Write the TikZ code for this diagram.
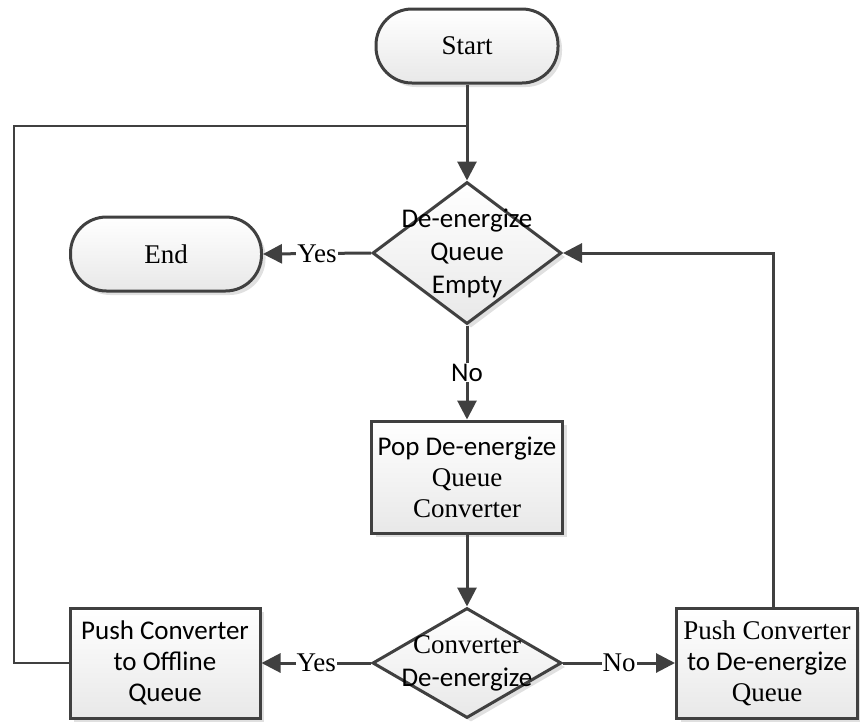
\documentclass[tikz,border=0pt]{standalone}
\usepackage{fontspec}
\setmainfont{Liberation Serif}
\newfontfamily\calf{Carlito}
\usetikzlibrary{arrows.meta,shapes.geometric,shadows}
\definecolor{ink}{HTML}{404040}
\tikzset{
  flowline/.style={draw=ink, line width=3pt},
  flowarrow/.style={flowline, -{Triangle[length=19pt,width=19pt]}},
  returnline/.style={draw=ink, line width=2.2pt},
  shaded/.style={draw=ink, line width=3pt, top color=white, bottom color=black!9,
    drop shadow={shadow xshift=4pt, shadow yshift=-4pt, fill=black, opacity=0.12}},
  terminal/.style={shaded, rectangle, rounded corners=36pt, minimum height=74pt,
    font=\fontsize{27}{32}\selectfont},
  process/.style={shaded, rectangle, minimum height=110pt, align=center, inner sep=0pt,
    font=\fontsize{27}{31}\selectfont},
  decision/.style={shaded, diamond, minimum width=189pt, inner sep=0pt},
  decisiontext/.style={align=center, font=\fontsize{27}{33}\selectfont},
  edgelabel/.style={fill=white, inner sep=1pt, font=\fontsize{27}{32}\selectfont},
}
\begin{document}
\begin{tikzpicture}[x=1pt, y=-1pt]
  \useasboundingbox (0,0) rectangle (860,721);

  % terminals
  \node[terminal, minimum width=182pt] (start) at (467,46) {Start};
  \node[terminal, minimum width=191pt] (end) at (166,254) {End};

  % decisions
  \node[decision, minimum height=142pt,
        label={[decisiontext]center:{\calf De-energize}\\{\calf Queue}\\{\calf Empty}}]
        (q1) at (467,253) {};
  \node[decision, minimum height=110pt,
        label={[decisiontext]center:{Converter}\\{\calf De-energize}}]
        (q2) at (467,663) {};

  % processes
  \node[process, minimum width=191pt, minimum height=112pt] (pop) at (467,477)
       {{\calf Pop De-energize}\\{Queue}\\{Converter}};
  \node[process, minimum width=190pt] (offline) at (165,663)
       {{\calf Push Converter}\\{\calf to Offline}\\{\calf Queue}};
  \node[process, minimum width=181pt] (requeue) at (767,663)
       {{Push Converter}\\{\calf to De-energize}\\{Queue}};

  % return path from the offline queue back into the main loop
  \coordinate (join) at (467,126);
  \coordinate (loopcorner) at (14,126);
  \draw[returnline] (offline.west) -| (loopcorner) -- (join);

  % main flow
  \draw[flowarrow] (start) -- (q1);
  \draw[flowarrow] (q1.west) -- node[edgelabel]{Yes} (end.east);
  \draw[flowarrow] (q1.south) -- node[edgelabel]{\calf No} (pop.north);
  \draw[flowarrow] (pop.south) -- (q2.north);
  \draw[flowarrow] (q2.west) -- node[edgelabel]{Yes} (offline.east);
  \draw[flowarrow] (q2.east) -- node[edgelabel]{No} (requeue.west);
  \draw[flowarrow] ([xshift=6pt]requeue.north) |- (q1.east);
\end{tikzpicture}
\end{document}
